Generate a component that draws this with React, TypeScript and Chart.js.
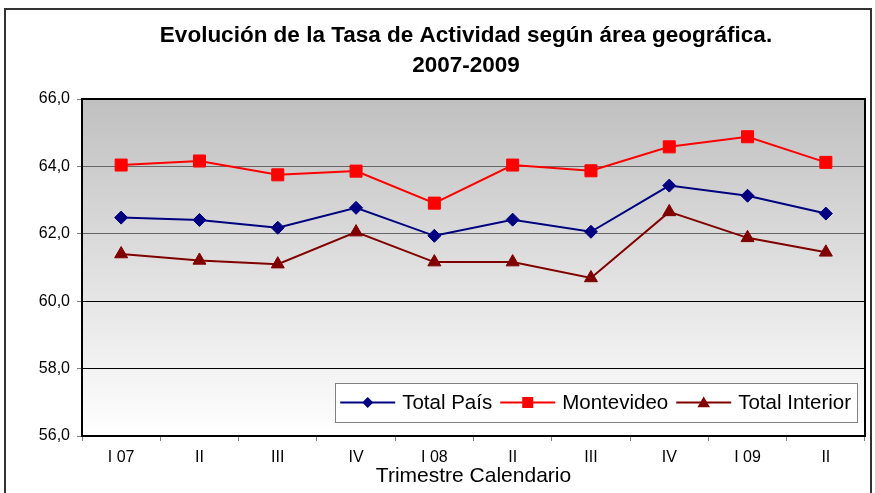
import React, { useEffect, useRef } from "react";
import { Chart, registerables } from "chart.js";

Chart.register(...registerables);

const titleLines = ["Evolución de la Tasa de Actividad según área geográfica.", "2007-2009"];
const xAxisTitle = "Trimestre Calendario";
const categories = ["I 07", "II", "III", "IV", "I 08", "II", "III", "IV", "I 09", "II"];
const totalPais = [62.48, 62.41, 62.18, 62.77, 61.94, 62.42, 62.06, 63.43, 63.13, 62.6];
const montevideo = [64.04, 64.16, 63.75, 63.86, 62.91, 64.04, 63.87, 64.58, 64.88, 64.12];
const totalInterior = [61.4, 61.21, 61.1, 62.05, 61.16, 61.16, 60.69, 62.65, 61.88, 61.45];
const seriesNames = ["Total País", "Montevideo", "Total Interior"];
const yMin = 56;
const yMax = 66;
const yStep = 2;

const FONT = "'Liberation Sans', Arial, sans-serif";

function drawMarker(ctx: CanvasRenderingContext2D, style: string, x: number, y: number, r: number, color: string) {
  ctx.save();
  ctx.fillStyle = color;
  ctx.beginPath();
  if (style === "rectRot") {
    ctx.moveTo(x, y - r);
    ctx.lineTo(x + r, y);
    ctx.lineTo(x, y + r);
    ctx.lineTo(x - r, y);
  } else if (style === "rect") {
    ctx.rect(x - r, y - r, 2 * r, 2 * r);
  } else {
    ctx.moveTo(x, y - r);
    ctx.lineTo(x + r * 1.05, y + r * 0.8);
    ctx.lineTo(x - r * 1.05, y + r * 0.8);
  }
  ctx.closePath();
  ctx.fill();
  ctx.restore();
}

const decorPlugin = {
  id: "decor",
  beforeDraw(chart: any) {
    const { ctx, chartArea } = chart;
    const { left, top, right, bottom } = chartArea;
    ctx.save();
    ctx.fillStyle = "#ffffff";
    ctx.fillRect(0, 0, chart.width, chart.height);
    // outer border
    ctx.strokeStyle = "#333333";
    ctx.lineWidth = 2;
    ctx.strokeRect(5, 9, 866, 600);
    // plot background gradient
    const g = ctx.createLinearGradient(0, top, 0, bottom);
    g.addColorStop(0, "#c0c0c0");
    g.addColorStop(1, "#ffffff");
    ctx.fillStyle = g;
    ctx.fillRect(left, top, right - left, bottom - top);
    // title
    ctx.fillStyle = "#000";
    ctx.font = `bold 22.5px ${FONT}`;
    ctx.textAlign = "center";
    ctx.textBaseline = "middle";
    ctx.fillText(titleLines[0], 466, 36);
    ctx.fillText(titleLines[1], 466, 66);
    ctx.restore();
  },
  afterDraw(chart: any) {
    const { ctx, chartArea } = chart;
    const { left, top, right, bottom } = chartArea;
    ctx.save();
    ctx.strokeStyle = "#000";
    ctx.lineWidth = 2;
    ctx.beginPath();
    ctx.moveTo(left, top);
    ctx.lineTo(right, top);
    ctx.lineTo(right, bottom);
    ctx.stroke();

    // legend inside plot area
    ctx.font = `20.5px ${FONT}`;
    const lineLen = 55;
    const gapLineText = 7;
    const gapItems = 8;
    const padL = 5;
    const padR = 6;
    const widths = chart.data.datasets.map((d: any) => ctx.measureText(d.label).width);
    let boxW = padL + padR;
    widths.forEach((w: number, i: number) => {
      boxW += lineLen + gapLineText + w + (i < widths.length - 1 ? gapItems : 0);
    });
    const boxH = 39;
    const boxRight = right - 8;
    const boxBottom = bottom - 14;
    const bx = boxRight - boxW;
    const by = boxBottom - boxH;
    ctx.fillStyle = "#ffffff";
    ctx.fillRect(bx, by, boxW, boxH);
    ctx.strokeStyle = "#808080";
    ctx.lineWidth = 1;
    ctx.strokeRect(Math.round(bx) + 0.5, Math.round(by) + 0.5, Math.round(boxW), boxH);
    let x = bx + padL;
    const cy = by + boxH / 2;
    chart.data.datasets.forEach((d: any, i: number) => {
      ctx.strokeStyle = d.borderColor;
      ctx.lineWidth = 2;
      ctx.beginPath();
      ctx.moveTo(x, cy);
      ctx.lineTo(x + lineLen, cy);
      ctx.stroke();
      drawMarker(ctx, d.pointStyle, x + lineLen / 2, cy, d.pointStyle === "triangle" ? 6 : 5.5, d.borderColor);
      x += lineLen + gapLineText;
      ctx.fillStyle = "#000";
      ctx.textAlign = "left";
      ctx.textBaseline = "middle";
      ctx.fillText(d.label, x, cy + 1);
      x += widths[i] + gapItems;
    });
    ctx.restore();
  },
};

export default function App() {
  const canvasRef = useRef<HTMLCanvasElement | null>(null);

  useEffect(() => {
    if (!canvasRef.current) return;
    const chart = new Chart(canvasRef.current, {
      type: "line",
      data: {
        labels: categories,
        datasets: [
          {
            label: seriesNames[0],
            data: totalPais,
            borderColor: "#000080",
            backgroundColor: "#000080",
            borderWidth: 2,
            pointStyle: "rectRot",
            pointRadius: 6.5,
            pointBorderWidth: 1,
            tension: 0,
          },
          {
            label: seriesNames[1],
            data: montevideo,
            borderColor: "#ff0000",
            backgroundColor: "#ff0000",
            borderWidth: 2,
            pointStyle: "rect",
            pointRadius: 8.5,
            pointBorderWidth: 1,
            tension: 0,
          },
          {
            label: seriesNames[2],
            data: totalInterior,
            borderColor: "#800000",
            backgroundColor: "#800000",
            borderWidth: 2,
            pointStyle: "triangle",
            pointRadius: 7.5,
            pointBorderWidth: 1,
            tension: 0,
          },
        ],
      },
      options: {
        responsive: false,
        animation: false,
        devicePixelRatio: 1,
        layout: { padding: { top: 99, right: 10, left: 0, bottom: 0 } },
        plugins: {
          legend: { display: false },
          title: { display: false },
          tooltip: { enabled: false },
        },
        scales: {
          x: {
            type: "category",
            offset: true,
            grid: {
              offset: true,
              drawOnChartArea: false,
              drawTicks: true,
              tickLength: 5,
              tickColor: "#808080",
            },
            border: { display: true, color: "#000", width: 2 },
            ticks: {
              color: "#000",
              font: { family: FONT, size: 16 },
              padding: 7,
              maxRotation: 0,
              autoSkip: false,
            },
            title: {
              display: true,
              text: xAxisTitle,
              color: "#000",
              font: { family: FONT, size: 21 },
              padding: { top: 0, bottom: 4 },
            },
            afterFit: (scale: any) => {
              scale.height = 57;
            },
          },
          y: {
            min: yMin,
            max: yMax,
            grid: {
              color: (c: any) => (c.tick && c.tick.value >= 62 ? "#666666" : "#000000"),
              lineWidth: 1,
              drawTicks: true,
              tickLength: 5,
              tickColor: "#808080",
            },
            border: { display: true, color: "#000", width: 2 },
            ticks: {
              stepSize: yStep,
              color: "#000",
              font: { family: FONT, size: 16 },
              padding: 7,
              callback: (v: any) => Number(v).toFixed(1).replace(".", ","),
            },
            afterFit: (scale: any) => {
              scale.width = 82;
            },
          },
        },
      },
      plugins: [decorPlugin],
    });
    return () => chart.destroy();
  }, []);

  return (
    <div style={{ position: "absolute", left: 0, top: 0, width: 875, height: 493 }}>
      <canvas ref={canvasRef} width={875} height={493} style={{ display: "block" }} />
    </div>
  );
}
